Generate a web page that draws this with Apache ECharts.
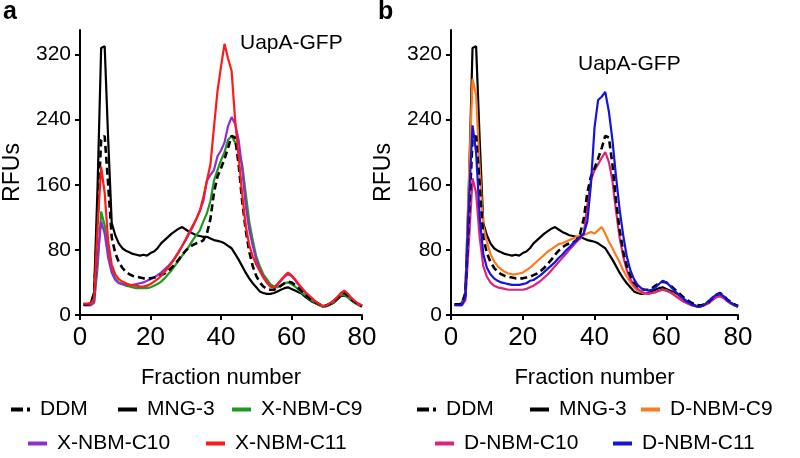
<!DOCTYPE html>
<html>
<head>
<meta charset="utf-8">
<script src="https://cdn.jsdelivr.net/npm/echarts@6/dist/echarts.min.js"></script>
<style>
html,body{margin:0;padding:0;background:#fff;}
#chart{width:800px;height:458px;}
</style>
</head>
<body>
<div id="chart"></div>
<script>
const fractions = [1,2,3,4,5,6,7,8,9,10,11,12,13,14,15,16,17,18,19,20,21,22,23,24,25,26,27,28,29,30,31,32,33,34,35,36,37,38,39,40,41,42,43,44,45,46,47,48,49,50,51,52,53,54,55,56,57,58,59,60,61,62,63,64,65,66,67,68,69,70,71,72,73,74,75,76,77,78,79,80];
const yTicks = [0,80,160,240,320];
const xTicks = [0,20,40,60,80];

const DDM = [13,13,14,25,120,215,220,160,95,76,65,58,53,50,48,47,46,45,45,45,46,47,49,51,54,58,63,68,74,79,83,86,88,89,92,100,118,150,170,180,192,205,220,218,185,140,105,78,60,48,40,35,32,31,31,33,36,39,41,40,37,33,29,25,21,18,15,13,12,12,14,17,21,25,27,24,19,16,13,11];
const MNG3 = [13,13,14,28,160,328,330,215,113,98,88,82,79,77,75,74,73,74,73,76,78,82,88,92,96,100,103,106,108,105,102,100,98,97,96,96,94,92,91,90,88,85,82,75,68,60,52,45,39,34,29,27,26,26,27,29,31,33,34,32,30,28,26,22,19,16,14,12,10,11,13,15,19,23,24,22,18,15,13,11];
const XNBM_C9 = [12,12,12,15,60,127,110,80,55,45,40,38,36,35,34,33,33,33,33,34,36,38,41,45,50,55,61,67,73,79,85,92,98,104,115,125,140,165,178,190,200,215,220,212,200,185,150,115,92,72,60,50,44,38,35,34,36,39,40,38,35,31,27,24,20,17,14,12,10,11,13,16,20,24,25,22,18,15,12,10];
const XNBM_C10 = [12,12,12,16,70,115,100,70,52,43,39,38,38,37,37,38,39,40,42,44,46,49,52,56,60,65,71,78,85,92,100,108,118,128,140,165,172,178,195,202,212,232,243,235,215,180,135,105,85,68,56,47,40,35,34,37,42,47,50,48,43,37,32,27,23,19,16,13,11,12,14,17,21,26,28,25,20,16,13,11];
const XNBM_C11 = [14,14,14,20,110,182,150,90,62,50,44,41,39,37,36,36,35,35,36,38,41,44,48,53,58,64,70,77,85,93,102,110,118,128,145,165,185,230,275,305,333,315,300,240,195,148,110,86,72,62,54,46,40,35,34,38,43,48,52,49,44,38,33,28,24,20,16,13,11,12,15,18,22,27,30,26,21,17,14,12];
const DNBM_C9 = [13,13,13,25,170,290,270,180,110,90,75,66,60,56,53,51,50,50,51,52,55,58,62,66,70,74,78,81,84,87,88,90,92,94,96,98,98,100,102,100,104,108,100,90,82,73,65,55,47,40,34,30,28,26,26,27,28,30,31,30,28,26,23,20,17,14,12,11,10,11,13,16,19,22,23,21,17,14,12,10];
const DNBM_C10 = [12,12,12,18,90,168,150,95,60,47,40,36,34,33,32,31,31,31,31,31,32,34,36,39,42,46,50,55,60,65,70,75,80,85,90,94,100,135,165,178,185,193,200,188,165,128,95,72,55,44,37,32,29,27,26,27,28,30,31,30,28,25,22,19,16,14,12,11,10,11,13,16,19,22,23,21,17,14,12,10];
const DNBM_C11 = [12,12,12,22,140,233,200,120,75,58,50,45,42,40,39,38,37,37,37,38,39,42,43,46,49,53,57,61,65,70,74,79,83,88,92,96,100,115,160,230,264,268,274,250,215,170,130,98,72,55,44,37,33,31,30,31,34,38,42,40,36,31,27,23,19,16,13,11,10,11,14,18,22,25,26,23,18,15,12,10];

const FONT = 'Liberation Sans, Arial, Helvetica, sans-serif';
const pairs = arr => fractions.map((f, i) => [f, arr[i]]);

function mkSeries(name, arr, color, idx, dashed) {
  return {
    name: name, type: 'line', xAxisIndex: idx, yAxisIndex: idx,
    data: pairs(arr), symbol: 'none', smooth: false,
    lineStyle: {color: color, width: dashed ? 2.6 : 2.2, type: dashed ? [7, 4] : 'solid'},
    itemStyle: {color: color},
    emphasis: {disabled: true}
  };
}

const colors = {
  'DDM': '#000000', 'MNG-3': '#000000',
  'X-NBM-C9': '#1e9a1e', 'X-NBM-C10': '#8f2fd0', 'X-NBM-C11': '#ff1a1a',
  'D-NBM-C9': '#ff7a1a', 'D-NBM-C10': '#e0207a', 'D-NBM-C11': '#1414e0'
};

const grids = [
  {left: 77, top: 30, width: 285, height: 285},
  {left: 451, top: 30, width: 287, height: 285}
];

function xAx(i) {
  return {
    type: 'value', gridIndex: i, min: 0, max: 80, interval: 20,
    name: 'Fraction number', nameLocation: 'middle', nameGap: 52,
    nameTextStyle: {fontFamily: FONT, fontSize: 22, color: '#000'},
    axisLine: {show: true, onZero: false, lineStyle: {color: '#000', width: 2}},
    axisTick: {show: true, length: 5, lineStyle: {color: '#000', width: 2}},
    axisLabel: {fontFamily: FONT, fontSize: 26, color: '#000', margin: 10},
    splitLine: {show: false}
  };
}
function yAx(i) {
  return {
    type: 'value', gridIndex: i, min: 0, max: 350,
    name: 'RFUs', nameLocation: 'middle', nameGap: 56, nameRotate: 90,
    nameTextStyle: {fontFamily: FONT, fontSize: 23, color: '#000'},
    axisLine: {show: true, lineStyle: {color: '#000', width: 2}},
    axisTick: {show: true, length: 5, lineStyle: {color: '#000', width: 2}, customValues: yTicks},
    axisLabel: {fontFamily: FONT, fontSize: 21, color: '#000', margin: 9, customValues: yTicks},
    splitLine: {show: false}
  };
}

const dashIcon = 'path://M0 0H12V4H0Z M16 0H19V4H16Z';
function leg(name, left, top, dashed) {
  return {
    data: [{name: name, icon: dashed ? dashIcon : 'rect'}],
    left: left, top: top, padding: 0, itemWidth: 19, itemHeight: 4,
    selectedMode: false,
    textStyle: {fontFamily: FONT, fontSize: 21, color: '#000', padding: [0, 0, 0, 5]}
  };
}

const option = {
  animation: false,
  backgroundColor: '#fff',
  title: [
    {text: 'a', left: 3, top: 0, padding: 0, textStyle: {fontFamily: FONT, fontSize: 25, fontWeight: 'bold', color: '#000'}},
    {text: 'b', left: 378, top: 0, padding: 0, textStyle: {fontFamily: FONT, fontSize: 25, fontWeight: 'bold', color: '#000'}},
    {text: 'UapA-GFP', left: 240, top: 33, padding: 0, textStyle: {fontFamily: FONT, fontSize: 21, fontWeight: 'normal', color: '#000'}},
    {text: 'UapA-GFP', left: 578, top: 54, padding: 0, textStyle: {fontFamily: FONT, fontSize: 21, fontWeight: 'normal', color: '#000'}}
  ],
  grid: grids,
  xAxis: [xAx(0), xAx(1)],
  yAxis: [yAx(0), yAx(1)],
  legend: [
    leg('DDM', 11, 399, true), leg('MNG-3', 118, 399), leg('X-NBM-C9', 232, 399),
    leg('X-NBM-C10', 28, 433), leg('X-NBM-C11', 206, 433),
    leg('DDM', 417, 399, true), leg('MNG-3', 530, 399), leg('D-NBM-C9', 641, 399),
    leg('D-NBM-C10', 435, 433), leg('D-NBM-C11', 613, 433)
  ],
  series: [
    mkSeries('MNG-3', MNG3, colors['MNG-3'], 0),
    mkSeries('X-NBM-C9', XNBM_C9, colors['X-NBM-C9'], 0),
    mkSeries('X-NBM-C10', XNBM_C10, colors['X-NBM-C10'], 0),
    mkSeries('DDM', DDM, colors['DDM'], 0, true),
    mkSeries('X-NBM-C11', XNBM_C11, colors['X-NBM-C11'], 0),
    mkSeries('MNG-3', MNG3, colors['MNG-3'], 1),
    mkSeries('D-NBM-C9', DNBM_C9, colors['D-NBM-C9'], 1),
    mkSeries('D-NBM-C10', DNBM_C10, colors['D-NBM-C10'], 1),
    mkSeries('DDM', DDM, colors['DDM'], 1, true),
    mkSeries('D-NBM-C11', DNBM_C11, colors['D-NBM-C11'], 1)
  ]
};

const chart = echarts.init(document.getElementById('chart'), null, {renderer: 'canvas'});
chart.setOption(option);
</script>
</body>
</html>
